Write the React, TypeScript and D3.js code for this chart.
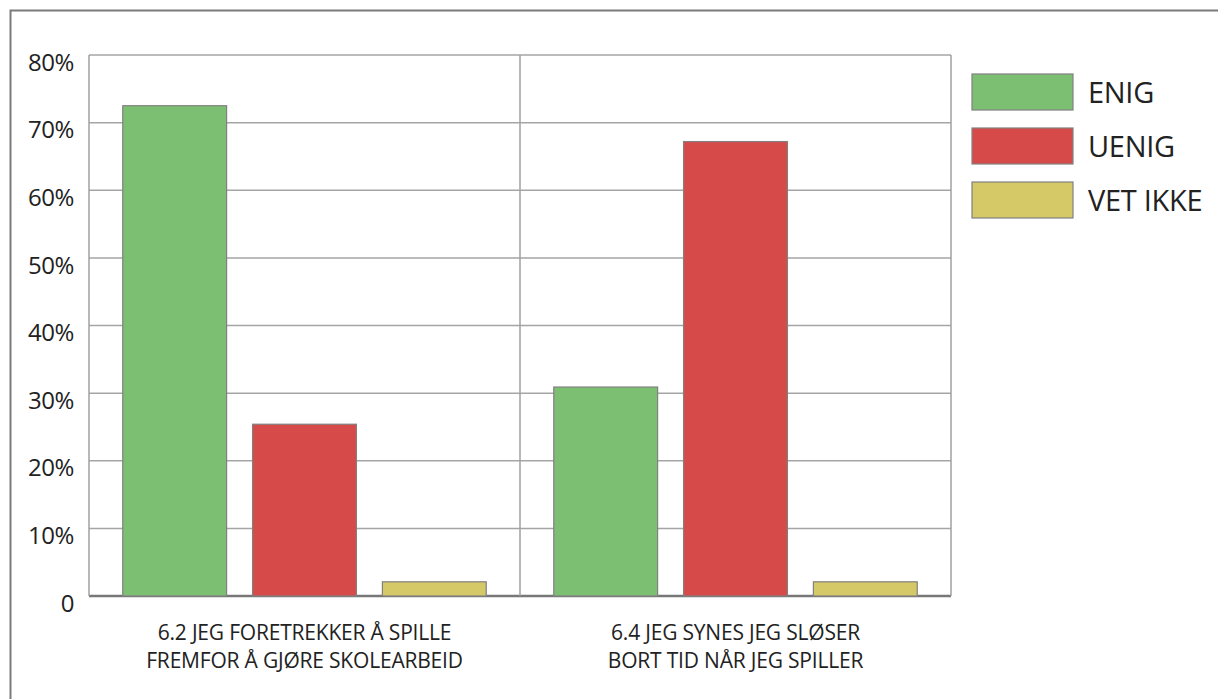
import React from "react";
import * as d3 from "d3";

const categories = [
  ["6.2 JEG FORETREKKER Å SPILLE", "FREMFOR Å GJØRE SKOLEARBEID"],
  ["6.4 JEG SYNES JEG SLØSER", "BORT TID NÅR JEG SPILLER"],
];
const seriesNames = ["ENIG", "UENIG", "VET IKKE"];
const seriesColors = ["#7dbf72", "#d64b4a", "#d4c867"];
const enig = [72.5, 30.9];
const uenig = [25.4, 67.2];
const vetIkke = [2.1, 2.1];
const yTicks = [0, 10, 20, 30, 40, 50, 60, 70, 80];

const W = 1218;
const H = 699;
const plot = { left: 89, right: 951, top: 55, bottom: 596 };
const FONT = "'Open Sans', 'Noto Sans', sans-serif";

export default function App() {
  const values = [enig, uenig, vetIkke];
  const x0 = d3
    .scaleBand<number>()
    .domain(categories.map((_, i) => i))
    .range([plot.left, plot.right])
    .paddingInner(0)
    .paddingOuter(0);
  const x1 = d3
    .scaleBand<number>()
    .domain(seriesNames.map((_, i) => i))
    .range([0, x0.bandwidth()])
    .paddingInner(0.2)
    .paddingOuter(0.26);
  const y = d3.scaleLinear().domain([0, 80]).range([plot.bottom, plot.top]);

  return (
    <svg
      width={W}
      height={H}
      style={{ position: "absolute", left: 0, top: 0, background: "#fff" }}
    >
      <rect x={0} y={0} width={W} height={H} fill="#fff" />
      {/* outer frame */}
      <path d={`M10.5,${H + 5} L10.5,10.5 L${W + 5},10.5`} fill="none" stroke="#7a7a7a" strokeWidth={2} />
      {/* gridlines */}
      {yTicks.map((t) => (
        <line
          key={t}
          x1={plot.left}
          x2={plot.right}
          y1={y(t)}
          y2={y(t)}
          stroke={t === 0 ? "#777" : "#a5a5a5"}
          strokeWidth={t === 0 ? 2.5 : 1.5}
        />
      ))}
      {/* vertical frame lines */}
      {[plot.left, ...categories.map((_, i) => (x0(i) as number) + x0.bandwidth())].map((xv, i) => (
        <line key={i} x1={xv} x2={xv} y1={plot.top} y2={plot.bottom} stroke="#a0a0a0" strokeWidth={1.5} />
      ))}
      {/* bars */}
      {categories.map((_, ci) =>
        seriesNames.map((_, si) => {
          const v = values[si][ci];
          const bx = (x0(ci) as number) + (x1(si) as number);
          return (
            <rect
              key={`${ci}-${si}`}
              x={bx}
              y={y(v)}
              width={x1.bandwidth()}
              height={plot.bottom - y(v)}
              fill={seriesColors[si]}
              stroke="#808080"
              strokeWidth={1.2}
            />
          );
        })
      )}
      {/* y tick labels */}
      {yTicks.map((t) => (
        <text
          key={t}
          x={74}
          y={y(t) + 7}
          dy="0.36em"
          textAnchor="end"
          fontFamily={FONT}
          fontSize={24}
          fill="#222"
          letterSpacing={-0.4}
        >
          {t === 0 ? "0" : `${t}%`}
        </text>
      ))}
      {/* category labels */}
      {categories.map((lines, ci) =>
        lines.map((ln, li) => (
          <text
            key={`${ci}-${li}`}
            x={(x0(ci) as number) + x0.bandwidth() / 2}
            y={640 + li * 28}
            textAnchor="middle"
            fontFamily={FONT}
            fontSize={21}
            fill="#222"
            letterSpacing={-0.2}
          >
            {ln}
          </text>
        ))
      )}
      {/* legend */}
      {seriesNames.map((s, i) => {
        const ly = 74 + i * 54;
        return (
          <g key={s}>
            <rect x={972} y={ly} width={101} height={36} fill={seriesColors[i]} stroke="#808080" strokeWidth={1.2} />
            <text
              x={1088}
              y={ly + 19}
              dy="0.36em"
              fontFamily={FONT}
              fontSize={29}
              fill="#222"
              letterSpacing={-0.3}
            >
              {s}
            </text>
          </g>
        );
      })}
    </svg>
  );
}
